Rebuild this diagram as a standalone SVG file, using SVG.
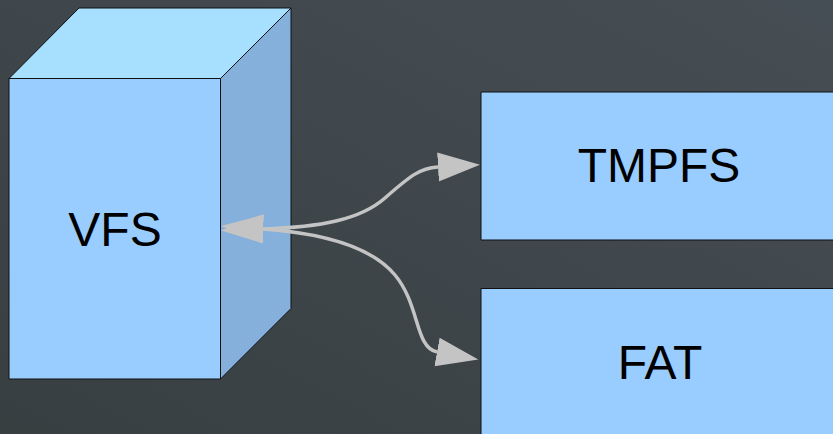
<svg xmlns="http://www.w3.org/2000/svg" width="833" height="434" viewBox="0 0 833 434">
  <defs>
    <linearGradient id="bg" x1="0" y1="1" x2="1" y2="0">
      <stop offset="0" stop-color="#383f41"/>
      <stop offset="1" stop-color="#464e55"/>
    </linearGradient>
    <marker id="arrow" markerUnits="userSpaceOnUse" markerWidth="43" markerHeight="31" viewBox="0 0 43 31" refX="0" refY="15.5" orient="auto-start-reverse">
      <path d="M0,1 L42,15.5 L0,30 z" fill="#c4c4c4"/>
    </marker>
  </defs>
  <style>
    .label { font-family: "Liberation Sans", Arial, sans-serif; font-size: 48px; fill: #000; text-anchor: middle; }
    .edge { fill: none; stroke: #c4c4c4; stroke-width: 3.5; marker-start: url(#arrow); marker-end: url(#arrow); }
    .face { stroke: #111; stroke-width: 1; stroke-linejoin: round; }
  </style>

  <rect width="833" height="434" fill="url(#bg)"/>

  <!-- VFS: 3D block -->
  <g id="vfs">
    <polygon class="face" points="9,78.5 79,8 291,8 220.5,78.5" fill="#a7e0ff"/>
    <polygon class="face" points="220.5,78.5 291,8 291,308.5 220.5,379" fill="#84b0db"/>
    <rect class="face" x="9" y="78.5" width="211.5" height="300.5" fill="#99ccff"/>
    <text class="label" x="115" y="246">VFS</text>
  </g>

  <!-- TMPFS -->
  <g id="tmpfs">
    <rect class="face" x="481" y="92" width="360" height="148" fill="#99ccff"/>
    <text class="label" x="659" y="182">TMPFS</text>
  </g>

  <!-- FAT -->
  <g id="fat">
    <rect class="face" x="481" y="288.5" width="360" height="160" fill="#99ccff"/>
    <text class="label" x="660" y="379">FAT</text>
  </g>

  <!-- Connectors -->
  <g id="connectors">
    <path class="edge" d="M263,229 C320,227 360,220 385,198 S420,168 438,167"/>
    <path class="edge" d="M263,229 C320,233 370,245 395,275 S415,348 437,352"/>
  </g>
</svg>
